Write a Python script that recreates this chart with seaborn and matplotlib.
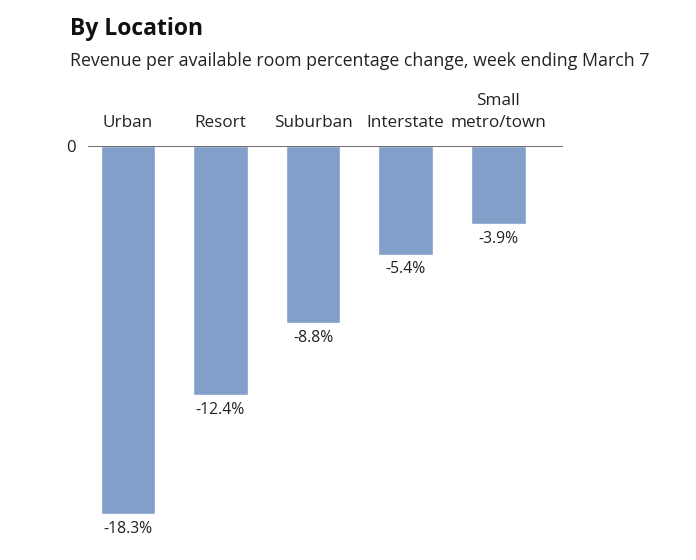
import matplotlib
matplotlib.use("Agg")
import matplotlib.pyplot as plt
import seaborn as sns
import pandas as pd

# chart data
locations = ["Urban", "Resort", "Suburban", "Interstate", "Small\nmetro/town"]
revpar_change = [-18.3, -12.4, -8.8, -5.4, -3.9]

bar_color = "#819fc9"
text_color = "#222222"

sns.set_theme(style="white")
plt.rcParams["font.family"] = ["Open Sans", "DejaVu Sans"]

df = pd.DataFrame({"location": locations, "change": revpar_change})

W, H = 696, 560
fig = plt.figure(figsize=(W / 100, H / 100), dpi=100)

# axes placed in pixel terms: zero line at y=146, from x=88 to 563
left, right, top, bottom = 88, 563, 146, 540
ax = fig.add_axes([left / W, 1 - bottom / H, (right - left) / W, (bottom - top) / H])

sns.barplot(data=df, x="location", y="change", color=bar_color, width=0.59,
            saturation=1, ax=ax)

ax.set_xlim(-0.43, 4.70)
ax.set_ylim(-19.6, 0)
ax.axhline(0, color="#555555", lw=1.2, zorder=3)

for c in ax.containers:
    ax.bar_label(c, labels=[f"{v:.1f}%" for v in revpar_change], padding=5,
                 fontsize=11.3, color=text_color)

ax.xaxis.tick_top()
ax.tick_params(axis="x", length=0, pad=11, labelsize=12.3, labelcolor=text_color)
for lbl in ax.get_xticklabels():
    lbl.set_linespacing(1.45)
ax.set_yticks([0])
ax.set_yticklabels(["0"])
ax.tick_params(axis="y", length=6, width=1, color="#555555", pad=3,
               labelsize=12, labelcolor=text_color)
ax.set_xlabel("")
ax.set_ylabel("")
for s in ax.spines.values():
    s.set_visible(False)

fig.text(70 / W, 1 - 29 / H, "By Location", fontsize=16.5, fontweight="bold",
         color="#111111", va="center", ha="left")
fig.text(70 / W, 1 - 61 / H,
         "Revenue per available room percentage change, week ending March 7",
         fontsize=12.8, color=text_color, va="center", ha="left")

fig.savefig("out.png", dpi=100)
